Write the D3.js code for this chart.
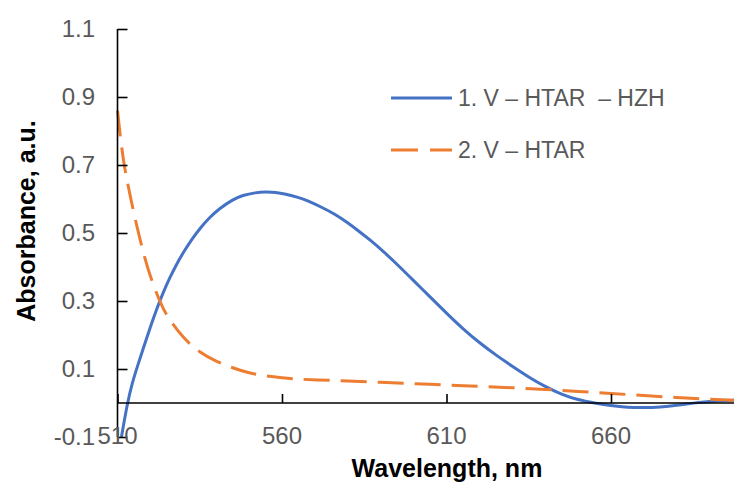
<!DOCTYPE html>
<html>
<head>
<meta charset="utf-8">
<script src="https://cdn.jsdelivr.net/npm/d3@7"></script>
<style>
  html, body { margin: 0; padding: 0; background: #fff; }
  svg { display: block; font-family: Arial, "Liberation Sans", sans-serif; }
</style>
</head>
<body>
<svg id="chart" width="734" height="482"></svg>
<script>
// Absorption spectra of the two vanadium complexes
const wavelengthsComplex = [511.2, 513, 514.5, 516, 518, 520, 522, 524, 526, 528, 530, 533, 535, 538, 541,
  545, 548, 552, 555, 558, 561, 565, 568, 572, 576, 580, 583, 587, 591, 595, 600, 605, 610, 615, 620,
  625, 630, 635, 640, 645, 650, 655, 660, 665, 670, 675, 680, 685, 690, 695, 700, 705];
const absorbanceComplex = [-0.10, 0.0, 0.06, 0.106, 0.166, 0.224, 0.279, 0.328, 0.371, 0.409, 0.443,
  0.487, 0.513, 0.546, 0.572, 0.598, 0.611, 0.619, 0.621, 0.62, 0.615, 0.605, 0.594, 0.576, 0.556, 0.53,
  0.508, 0.478, 0.444, 0.408, 0.36, 0.312, 0.264, 0.218, 0.177, 0.141, 0.108, 0.076, 0.048, 0.025,
  0.009, 0.0, -0.008, -0.013, -0.014, -0.012, -0.007, 0.0, 0.005, 0.008, 0.008, 0.008];

const wavelengthsReagent = [510, 511, 512, 513, 515, 518, 520, 523, 525, 530, 535, 540, 545, 550, 555, 560,
  565, 570, 580, 590, 600, 610, 620, 630, 640, 650, 660, 670, 680, 690, 700, 710];
const absorbanceReagent = [0.86, 0.77, 0.70, 0.65, 0.555, 0.435, 0.37, 0.295, 0.255, 0.19, 0.148, 0.122,
  0.103, 0.088, 0.079, 0.074, 0.07, 0.068, 0.065, 0.061, 0.057, 0.053, 0.049, 0.045, 0.04, 0.034,
  0.028, 0.022, 0.016, 0.011, 0.007, 0.004];

const seriesNames = ["1. V \u2013 HTAR \u00a0\u2013 HZH", "2. V \u2013 HTAR"];
const xTicks = [510, 560, 610, 660];
const yTicks = [-0.1, 0.1, 0.3, 0.5, 0.7, 0.9, 1.1];

const svg = d3.select("#chart");
const labelColor = "#595959";
const colors = ["#4472C4", "#ED7D31"];

const x = d3.scaleLinear().domain([510, 710]).range([117.5, 775.5]);
const y = d3.scaleLinear().domain([-0.1, 1.1]).range([437, 29]);

const line = d3.line()
  .x(d => x(d[0]))
  .y(d => y(d[1]))
  .curve(d3.curveBasis);

const complexData = d3.zip(wavelengthsComplex, absorbanceComplex);
const reagentData = d3.zip(wavelengthsReagent, absorbanceReagent);

// series
svg.append("path")
  .datum(complexData)
  .attr("d", line)
  .attr("fill", "none")
  .attr("stroke", colors[0])
  .attr("stroke-width", 3);

svg.append("path")
  .datum(reagentData)
  .attr("d", line)
  .attr("fill", "none")
  .attr("stroke", colors[1])
  .attr("stroke-width", 3)
  .attr("stroke-dasharray", "26,11");

// y axis: ticks pointing into the plot, labels on the left
const yAxis = svg.append("g")
  .attr("transform", `translate(${x(510)},0)`)
  .call(d3.axisRight(y).tickValues(yTicks).tickSize(10).tickFormat(""));
yAxis.select(".domain").attr("d", `M0,${y(-0.1)}V${y(1.1)}`);
yAxis.selectAll("line, path").attr("stroke", "#000").attr("stroke-width", 1.6);

const fmtY = v => d3.format(".1f")(v).replace("\u2212", "-");

svg.append("g").selectAll("text")
  .data(yTicks)
  .join("text")
  .attr("x", 95)
  .attr("y", d => y(d))
  .attr("dy", "0.35em")
  .attr("text-anchor", "end")
  .attr("fill", labelColor)
  .attr("font-size", 24)
  .text(fmtY);

// x axis crossing at zero, ticks pointing up, labels at the bottom
const xAxis = svg.append("g")
  .attr("transform", `translate(0,${y(0)})`)
  .call(d3.axisTop(x).tickValues(xTicks).tickSize(9).tickFormat(""));
xAxis.select(".domain").attr("d", `M${x(510)},0H${x(710)}`);
xAxis.selectAll("line, path").attr("stroke", "#000").attr("stroke-width", 1.6);

svg.append("g").selectAll("text")
  .data(xTicks)
  .join("text")
  .attr("x", d => x(d))
  .attr("y", 444)
  .attr("text-anchor", "middle")
  .attr("fill", labelColor)
  .attr("font-size", 24)
  .text(d => d);

// axis titles
svg.append("text")
  .attr("x", 447)
  .attr("y", 477)
  .attr("text-anchor", "middle")
  .attr("font-weight", "bold")
  .attr("font-size", 25)
  .attr("fill", "#000")
  .text("Wavelength, nm");

svg.append("text")
  .attr("transform", "translate(35,221) rotate(-90)")
  .attr("text-anchor", "middle")
  .attr("font-weight", "bold")
  .attr("font-size", 25)
  .attr("fill", "#000")
  .text("Absorbance, a.u.");

// legend
const legend = svg.append("g").selectAll("g")
  .data(seriesNames)
  .join("g")
  .attr("transform", (d, i) => `translate(391,${98 + i * 52})`);

legend.append("line")
  .attr("x1", 0).attr("x2", 61)
  .attr("stroke", (d, i) => colors[i])
  .attr("stroke-width", 3)
  .attr("stroke-dasharray", (d, i) => i === 1 ? "27,12" : null);

legend.append("text")
  .attr("x", 67)
  .attr("dy", "0.36em")
  .attr("fill", labelColor)
  .attr("font-size", 23)
  .text(d => d);
</script>
</body>
</html>
